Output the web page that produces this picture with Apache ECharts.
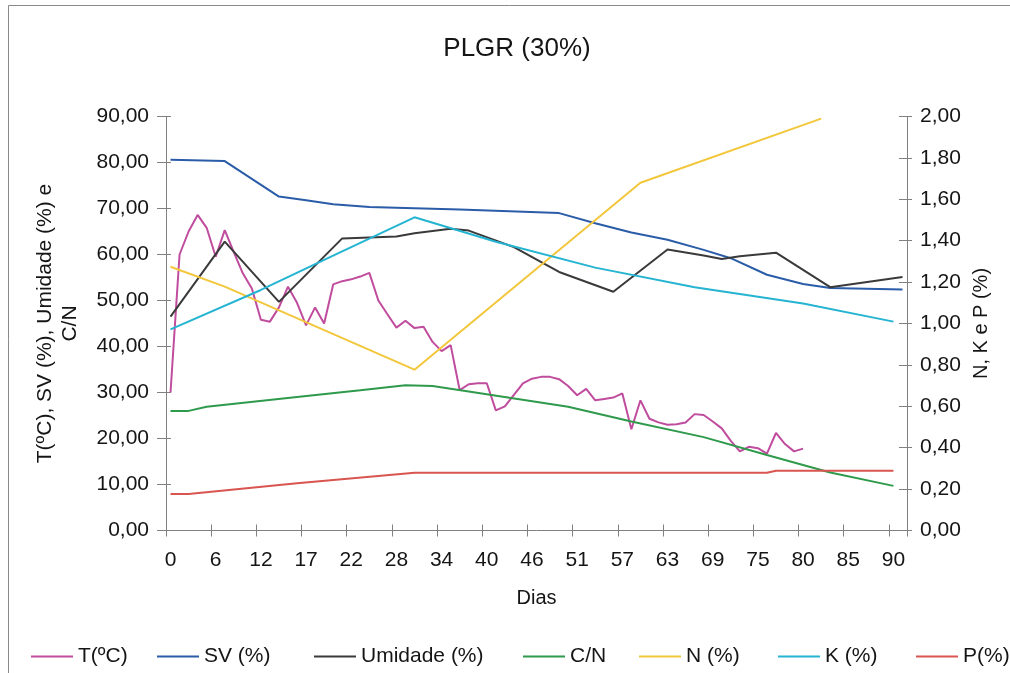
<!DOCTYPE html>
<html>
<head>
<meta charset="utf-8">
<title>PLGR (30%)</title>
<script src="https://cdn.jsdelivr.net/npm/echarts@6/dist/echarts.min.js"></script>
<style>
  html, body { margin: 0; padding: 0; background: #fff; }
  #chart { width: 1010px; height: 673px; }
</style>
</head>
<body>
<div id="chart"></div>
<script>
// Day labels shown under every 5th sample on the x axis
const dayLabels = [0, 6, 12, 17, 22, 28, 34, 40, 46, 51, 57, 63, 69, 75, 80, 85, 90];
const sampleCount = 82;
const labelStep = 5;

// Left-axis series: one value per sample for temperature
const tempC = [30.0, 60.0, 65.0, 68.6, 65.8, 59.5, 65.3, 60.5, 55.9, 52.6,
  45.8, 45.4, 48.5, 53.0, 49.5, 44.6, 48.5, 45.0, 53.5, 54.2,
  54.6, 55.2, 56.0, 50.0, 47.0, 44.1, 45.6, 44.0, 44.3, 41.0,
  39.0, 40.3, 30.5, 31.8, 32.0, 32.0, 26.1, 27.0, 29.5, 32.0,
  33.0, 33.4, 33.4, 32.9, 31.4, 29.4, 30.8, 28.3, 28.6, 28.9,
  29.8, 22.0, 28.3, 24.3, 23.5, 23.0, 23.1, 23.5, 25.3, 25.1,
  23.7, 22.2, 19.5, 17.2, 18.2, 17.9, 16.7, 21.2, 18.8, 17.2, 17.8];

// Left-axis series given as [sample, value]
const svPct = [[0, 80.6], [6, 80.3], [12, 72.6], [15, 71.8], [18, 70.9], [22, 70.3],
  [32, 69.8], [43, 69.0], [47, 66.8], [51, 64.8], [55, 63.2], [59, 61.0], [62, 59.2],
  [66, 55.6], [70, 53.6], [73, 52.7], [81, 52.4]];
const umidadePct = [[0, 46.5], [6, 62.8], [12, 49.7], [19, 63.5], [25, 63.9], [27, 64.6],
  [31, 65.6], [33, 65.2], [38, 61.6], [43, 56.2], [49, 51.9], [55, 61.1], [59, 59.8],
  [61, 59.0], [63, 59.6], [67, 60.4], [73, 52.9], [81, 55.1]];
const cnRatio = [[0, 26.0], [2, 26.0], [4, 26.9], [14, 29.0], [21, 30.5], [26, 31.6],
  [29, 31.4], [33, 30.2], [44, 26.9], [51, 23.7], [59, 20.3], [66, 16.4], [73, 12.6], [80, 9.7]];

// Right-axis series given as [sample, value]
const nPct = [[0, 1.274], [6, 1.178], [27, 0.777], [52, 1.68], [72, 1.99]];
const kPct = [[0, 0.972], [10, 1.162], [17, 1.307], [27, 1.513], [36, 1.395],
  [47, 1.27], [58, 1.175], [70, 1.097], [80, 1.009]];
const pPct = [[0, 0.176], [2, 0.176], [14, 0.228], [27, 0.279], [66, 0.279], [67, 0.289], [80, 0.289]];

const seriesNames = ['T(ºC)', 'SV (%)', 'Umidade (%)', 'C/N', 'N (%)', 'K (%)', 'P(%)'];
const seriesColors = ['#c04c9e', '#2a5ca8', '#3a3a3a', '#2f9a4c', '#f2c73c', '#25b4d2', '#d95550'];
const legendLeft = [26, 152, 309, 518, 634, 773, 911];

const FONT = '"Liberation Sans", Arial, sans-serif';
const AXIS_GRAY = '#808080';
const TEXT = '#151515';

const categories = Array.from({ length: sampleCount }, (_, i) => String(i));
const comma = (v) => v.toFixed(2).replace('.', ',');
const dayLabel = (value, index) => (index % labelStep === 0 ? String(dayLabels[index / labelStep]) : '');

const seriesData = [tempC, svPct, umidadePct, cnRatio, nPct, kPct, pPct];
const seriesAxis = [0, 0, 0, 0, 1, 1, 1];

const chart = echarts.init(document.getElementById('chart'), null, { renderer: 'canvas' });

chart.setOption({
  backgroundColor: '#ffffff',
  animation: false,
  title: {
    text: 'PLGR (30%)',
    left: 512,
    top: 31,
    textAlign: 'center',
    textStyle: { fontFamily: FONT, fontSize: 26, fontWeight: 'normal', color: TEXT }
  },
  graphic: [{
    type: 'rect',
    shape: { x: 8.5, y: 5.5, width: 1010, height: 700 },
    style: { fill: 'none', stroke: '#8a8a8a', lineWidth: 1 },
    silent: true
  }],
  grid: { left: 166, right: 103, top: 116.5, bottom: 142.5, containLabel: false },
  legend: seriesNames.map((name, i) => ({
    data: [name],
    left: legendLeft[i],
    top: 641,
    icon: 'rect',
    itemWidth: 42,
    itemHeight: 2,
    itemGap: 5,
    textStyle: { fontFamily: FONT, fontSize: 21, color: TEXT, padding: [0, 0, 0, 0] }
  })),
  xAxis: [{
    type: 'category',
    data: categories,
    boundaryGap: true,
    position: 'bottom',
    name: 'Dias',
    nameLocation: 'middle',
    nameGap: 58,
    nameTextStyle: { fontFamily: FONT, fontSize: 20, color: TEXT },
    axisLine: { show: true, lineStyle: { color: AXIS_GRAY, width: 1 } },
    axisTick: { show: true, interval: labelStep - 1, length: 6, lineStyle: { color: AXIS_GRAY } },
    axisLabel: { interval: labelStep - 1, formatter: dayLabel, margin: 19,
      fontFamily: FONT, fontSize: 21, color: TEXT },
    splitLine: { show: false }
  }, {
    type: 'category',
    data: categories,
    boundaryGap: true,
    position: 'bottom',
    axisLine: { show: false },
    axisTick: { show: true, inside: true, interval: labelStep - 1, length: 6, lineStyle: { color: AXIS_GRAY } },
    axisLabel: { show: false },
    splitLine: { show: false }
  }],
  yAxis: [{
    type: 'value',
    position: 'left',
    min: 0, max: 90, interval: 10,
    name: 'T(ºC), SV (%), Umidade (%) e\nC/N',
    nameLocation: 'middle',
    nameRotate: 90,
    nameGap: 83,
    nameTextStyle: { fontFamily: FONT, fontSize: 21, color: TEXT, lineHeight: 25, align: 'center' },
    axisLine: { show: true, lineStyle: { color: AXIS_GRAY, width: 1 } },
    axisTick: { show: true, length: 9, lineStyle: { color: AXIS_GRAY } },
    axisLabel: { formatter: comma, margin: 17, fontFamily: FONT, fontSize: 21, color: TEXT },
    splitLine: { show: false }
  }, {
    type: 'value',
    position: 'right',
    min: 0, max: 2, interval: 0.2,
    name: 'N, K e P (%)',
    nameLocation: 'middle',
    nameRotate: 90,
    nameGap: 50,
    nameTextStyle: { fontFamily: FONT, fontSize: 20, color: TEXT },
    axisLine: { show: true, lineStyle: { color: AXIS_GRAY, width: 1 } },
    axisTick: { show: true, length: 5, lineStyle: { color: AXIS_GRAY } },
    axisLabel: { formatter: comma, margin: 13, fontFamily: FONT, fontSize: 21, color: TEXT },
    splitLine: { show: false }
  }, {
    type: 'value',
    position: 'left',
    min: 0, max: 90, interval: 10,
    axisLine: { show: false },
    axisTick: { show: true, inside: true, length: 5, lineStyle: { color: AXIS_GRAY } },
    axisLabel: { show: false },
    splitLine: { show: false }
  }, {
    type: 'value',
    position: 'right',
    min: 0, max: 2, interval: 0.2,
    axisLine: { show: false },
    axisTick: { show: true, inside: true, length: 8, lineStyle: { color: AXIS_GRAY } },
    axisLabel: { show: false },
    splitLine: { show: false }
  }],
  series: seriesNames.map((name, i) => ({
    name: name,
    type: 'line',
    xAxisIndex: 0,
    yAxisIndex: seriesAxis[i],
    data: seriesData[i],
    symbol: 'none',
    smooth: false,
    clip: true,
    color: seriesColors[i],
    lineStyle: { color: seriesColors[i], width: 2 },
    emphasis: { disabled: true }
  }))
});
</script>
</body>
</html>
